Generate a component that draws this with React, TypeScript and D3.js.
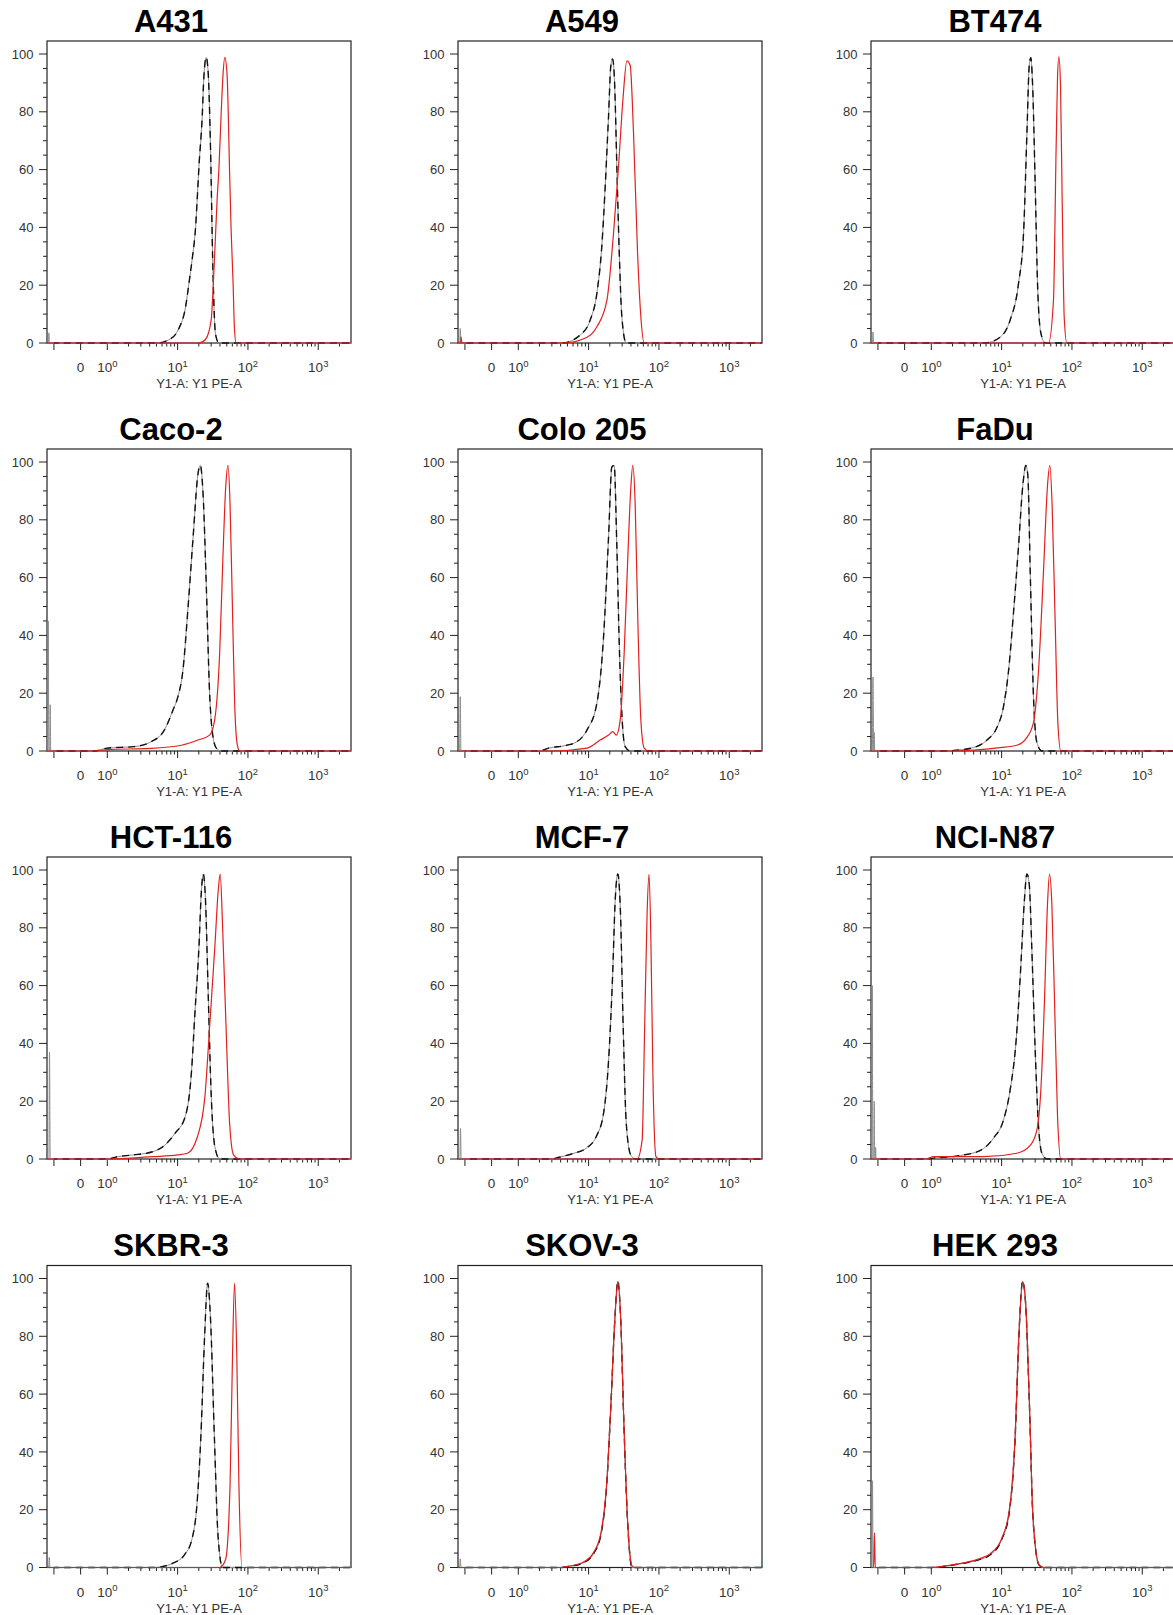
import React from 'react'
import * as d3 from 'd3'

// cell lines, in reading order (3 per row)
const cellLines = ['A431', 'A549', 'BT474', 'Caco-2', 'Colo 205', 'FaDu', 'HCT-116', 'MCF-7', 'NCI-N87', 'SKBR-3', 'SKOV-3', 'HEK 293']

// axis ticks
const yMajorTicks = [0, 20, 40, 60, 80, 100]
const yMinorTicks = d3.range(0, 101, 5)
const xMajorTicks = [-1, 0, 1, 10, 100, 1000]
const xTickBase = ['', '0', '10', '10', '10', '10']
const xTickSup = ['', '', '0', '1', '2', '3']
const xAxisTitle = 'Y1-A: Y1 PE-A'

// histograms: [intensity, % of max]; control = isotype (black), stained = antibody (red)
const a431Control = [[-1.21, 0], [-1.19, 3.5], [-1.17, 0], [5.1, 0], [7.5, 1.1], [10.4, 5], [13, 12.6], [14.5, 20.7], [16.1, 29], [18, 40], [19.2, 52], [20.1, 61], [22.4, 78.6], [23.6, 92], [25.5, 98.8], [27.2, 93.5], [29.4, 66.8], [31.7, 26], [34.6, 3], [38.6, 0]]
const a431Stained = [[20.1, 0], [25, 1.3], [30, 8], [32.1, 19.8], [36.5, 50], [38.6, 60], [41.7, 80], [44, 92], [47, 98.8], [50.7, 92], [52.4, 80], [54.7, 60], [57.5, 40], [61.6, 20], [64, 6], [68, 0]]

const a549Control = [[-1.2, 0], [-1.175, 5], [-1.15, 0], [4.2, 0], [7.6, 2.8], [10.5, 7.9], [13.1, 17.2], [15.5, 34.5], [17.2, 54], [19.2, 78.6], [20.7, 96], [21.9, 98.3], [23.4, 90], [25.2, 61], [27.2, 32], [29.7, 9], [34.2, 0]]
const a549Stained = [[-1.16, 0], [-1.14, 2], [-1.12, 0], [4.4, 0], [9.5, 2], [13.1, 5.6], [18.2, 14.8], [22.6, 38], [26.6, 61], [30.7, 84], [35, 97.6], [39, 96], [43.5, 72.6], [49.5, 32], [55.3, 9], [61.7, 0]]

const bt474Control = [[-1.21, 0], [-1.186, 3.8], [-1.16, 0], [5.8, 0], [9.5, 2], [13.2, 7.9], [17.4, 20.6], [20.5, 38], [22.9, 72.6], [24.7, 96], [26, 98.7], [27.5, 90], [30, 55], [32.4, 20.6], [36.1, 3.5], [41.6, 0]]
const bt474Stained = [[46.4, 0], [54.6, 14.8], [59.7, 69], [62.4, 92], [65.2, 99], [68.8, 89], [72.6, 49.5], [77.6, 9], [84.6, 0]]

const caco2Control = [[-1.23, 0], [-1.212, 45], [-1.19, 0], [-1.16, 0], [-1.138, 16], [-1.12, 0], [0.5, 0], [1, 1], [2.4, 1.5], [4.2, 3.2], [6.5, 7.3], [8.6, 14.2], [10.1, 18.8], [11.9, 28], [14.1, 50], [16.6, 74], [19.5, 96], [21, 98.8], [23, 89], [25.6, 56.8], [28.5, 20], [31.8, 5], [35.5, 1], [41.8, 0]]
const caco2Stained = [[0.5, 0], [1, 0.5], [4.2, 0.9], [11.3, 2], [19.5, 3.8], [28.5, 5.5], [33.6, 10.7], [39.6, 33.8], [44.2, 68], [48.2, 91], [52.1, 98.8], [55.6, 85.6], [60, 51], [64.7, 16.5], [70.7, 2], [76.3, 0]]

const colo205Control = [[-1.2, 0], [-1.175, 18.8], [-1.15, 0], [2, 0], [2.7, 1], [4.9, 2], [6.8, 3.2], [9.5, 7.3], [13.1, 16.5], [16.3, 39.5], [19.2, 74], [21.4, 98.3], [23.1, 98.8], [25.2, 70.6], [27.5, 33.8], [30, 10.7], [33.1, 1.5], [39, 0]]
const colo205Stained = [[3, 0], [9.5, 1], [14.6, 3.8], [19.2, 5.5], [22.1, 6.7], [24.7, 5.5], [28.1, 10.7], [32, 33.8], [36.2, 68], [39.8, 91], [42.5, 98.8], [45.9, 85.6], [50.1, 45], [55.3, 10.7], [61.6, 1], [71, 0]]

const faduControl = [[-1.21, 0], [-1.186, 25.6], [-1.16, 0], [-1.15, 0], [-1.138, 6.4], [-1.12, 0], [1.5, 0], [2.3, 0.3], [4, 1.2], [6.2, 3.8], [8.6, 8.2], [10.6, 15.2], [12.5, 27.4], [14.8, 48.3], [17.4, 70.9], [20, 91.8], [22.1, 98.8], [23.6, 95.3], [25.5, 62.2], [28.4, 18.6], [31.7, 3], [37.3, 0]]
const faduStained = [[2, 0], [9.5, 1.2], [16.5, 2], [22.9, 4.7], [28.4, 9.9], [33.4, 27.4], [39.4, 62.2], [44.9, 91.8], [48.5, 98.8], [52.3, 84.8], [57.7, 44.8], [63, 10], [69.5, 0]]

const hct116Control = [[-1.19, 0], [-1.167, 37], [-1.14, 0], [1, 0], [1.4, 0.8], [2.3, 1.4], [4.4, 2.5], [6.2, 4.3], [9.2, 8.9], [12.8, 14.6], [15.8, 30.7], [17.6, 50.3], [20.1, 73.3], [21.8, 92.9], [23.2, 98.6], [24.8, 90.6], [27.3, 56], [30.1, 21.5], [33.8, 4.3], [39.7, 0]]
const hct116Stained = [[1, 0], [4.4, 0.8], [10, 1.4], [13.8, 2], [19.1, 7.7], [24.4, 21.5], [28.7, 46.8], [33.8, 73.3], [37.8, 92.9], [40.3, 98.6], [43.8, 79], [49, 44.5], [54.9, 12.3], [62.5, 1.4], [75.9, 0]]

const mcf7Control = [[-1.19, 0], [-1.167, 10.6], [-1.14, 0], [3, 0], [3.8, 0.6], [6.2, 2], [9.2, 3.7], [12.8, 7.7], [16.3, 15.8], [19.1, 33], [21.8, 61.8], [24, 90.6], [26, 98.6], [28.2, 87], [31.1, 44.5], [34.3, 12.3], [39.7, 1.4], [46.7, 0]]
const mcf7Stained = [[49, 0], [57.7, 6.6], [62.5, 44.5], [67.8, 84.8], [72.3, 98.6], [77.1, 73.3], [82.3, 27.3], [90.7, 0.8], [100, 0]]

const nciN87Control = [[-1.23, 0], [-1.212, 60], [-1.19, 0], [-1.16, 0], [-1.138, 20], [-1.12, 0], [-1.1, 0], [-1.086, 4], [-1.07, 0], [0.8, 0], [1.08, 0.3], [2.6, 1.2], [5, 3], [7.7, 7.3], [10.6, 13.4], [13.2, 23.8], [16.1, 41.2], [18.8, 67.3], [20.9, 88.2], [22.9, 98.6], [24.7, 95.1], [26.9, 72.5], [30, 37.7], [33.4, 11.7], [37.3, 2], [44, 0]]
const nciN87Stained = [[0.8, 0], [1.08, 0.8], [5.5, 0.8], [16.5, 2], [25.5, 4.7], [31.7, 10], [36.1, 23.8], [40.7, 55], [44.9, 88.2], [48, 98.6], [51.8, 88.2], [56.5, 55], [62.3, 15.1], [69.5, 0]]

const skbr3Control = [[-1.2, 0], [-1.175, 3.5], [-1.15, 0], [5, 0], [6, 0.3], [8.6, 1.5], [12.5, 4.4], [15.9, 9.6], [18.9, 22.3], [21.4, 45.3], [24.2, 80], [26.7, 98.4], [29.4, 85.7], [33.3, 45.3], [37.6, 10.7], [43.5, 0]]
const skbr3Stained = [[39.4, 0], [48, 2.7], [55.6, 28], [59.8, 68.4], [64.4, 98.4], [69.3, 74.2], [74.5, 28], [82.2, 0]]

const skov3Control = [[-1.2, 0], [-1.175, 3], [-1.15, 0], [4, 0], [5, 0.3], [8.2, 1.5], [11.9, 5], [15.1, 11.9], [18, 28], [20.8, 56.9], [23.6, 85.7], [26, 99], [28.6, 85.7], [31.6, 51], [35.7, 16.5], [41.4, 0]]
const skov3Stained = [[4, 0], [5, 0.4], [8.2, 1.7], [11.9, 5.4], [15.1, 12.5], [18, 28.5], [20.8, 57], [23.6, 86], [26, 98.8], [28.6, 86], [31.6, 51.5], [35.7, 17], [41.4, 0.6], [45, 0]]

const hek293Control = [[-1.23, 0], [-1.205, 30], [-1.18, 0], [1, 0], [1.4, 0.3], [2.9, 1.5], [4.8, 2.7], [6.9, 4.4], [10, 9.6], [12.8, 18.8], [15.6, 45.3], [17.6, 80], [19.9, 99], [21.9, 91.5], [24.8, 56.9], [28, 16.5], [34, 0.9], [40, 0]]
const hek293Stained = [[-1.16, 0], [-1.13, 12], [-1.1, 0], [1, 0], [1.4, 0.4], [2.9, 1.6], [4.8, 3], [6.9, 4.8], [10, 10], [12.8, 19.5], [15.6, 46], [17.6, 80.5], [19.9, 98.8], [21.9, 92], [24.8, 57.5], [28, 17], [34, 1], [40, 0]]

const controlSeries = [a431Control, a549Control, bt474Control, caco2Control, colo205Control, faduControl, hct116Control, mcf7Control, nciN87Control, skbr3Control, skov3Control, hek293Control]
const stainedSeries = [a431Stained, a549Stained, bt474Stained, caco2Stained, colo205Stained, faduStained, hct116Stained, mcf7Stained, nciN87Stained, skbr3Stained, skov3Stained, hek293Stained]

// layout
const W = 1173
const H = 1615
const colLeft = [47, 458, 871]
const rowBase = [343, 751, 1159, 1567.5]
const boxW = 304
const boxH = 302
const yMax = 104.5
const xMin = -1.26
const xMax = 2920
const linEnd = 60.3
const font = "'Liberation Sans', Arial, Helvetica, sans-serif"

// biexponential-like axis: linear around zero, log from 10^0 upward
const xLin = d3.scaleLinear().domain([xMin, 1]).range([0, linEnd])
const xLog = d3.scaleLog().domain([1, xMax]).range([linEnd, boxW])
const xPos = (v: number) => (v < 1 ? xLin(v) : xLog(v))

const xMinorTicks = [1, 10, 100, 1000]
  .flatMap(d => d3.range(2, 10).map(k => k * d))
  .filter(v => v < xMax)

const yScale = d3.scaleLinear().domain([0, yMax]).range([boxH, 0])

const line = d3.line<number[]>()
  .x(d => xPos(d[0]))
  .y(d => yScale(d[1]))
  .curve(d3.curveMonotoneX)

const withBaseline = (pts: number[][]) => [[xMin, 0], ...pts, [xMax, 0]]

function Panel({ name, control, stained, left, base, idx }: any) {
  const top = base - boxH
  const ctrlPath = line(withBaseline(control)) || ''
  const stainPath = line(withBaseline(stained)) || ''
  // the pile-up spike at the left edge shows only as the thin grey trace
  const clipId = 'dash-clip-' + idx
  const clipX = xPos(-1)
  return (
    <g transform={`translate(${left},${top})`}>
      <defs>
        <clipPath id={clipId}>
          <rect x={clipX} y={-10} width={boxW - clipX + 10} height={boxH + 12} />
        </clipPath>
      </defs>
      <text x={124} y={-9.3} textAnchor='middle' fontSize={31} fontWeight='bold' fill='#000'>{name}</text>
      <rect x={0} y={0} width={boxW} height={boxH} fill='none' stroke='#222' strokeWidth={1.2} />

      {yMinorTicks.map(t => (
        <line key={'ym' + t} x1={yMajorTicks.includes(t) ? -8 : -4} x2={0} y1={yScale(t)} y2={yScale(t)} stroke='#222' />
      ))}
      {yMajorTicks.map(t => (
        <text key={'yl' + t} x={-13.5} y={yScale(t)} dy='0.36em' textAnchor='end' fontSize={13} fill='#333'>{t}</text>
      ))}

      {xMajorTicks.map(t => (
        <line key={'xM' + t} x1={xPos(t)} x2={xPos(t)} y1={boxH} y2={boxH + 7} stroke='#222' />
      ))}
      {xMinorTicks.map(t => (
        <line key={'xm' + t} x1={xPos(t)} x2={xPos(t)} y1={boxH} y2={boxH + 3.5} stroke='#222' />
      ))}
      {xMajorTicks.map((t, i) => (
        <text key={'xl' + t} x={xPos(t)} y={boxH + 29} textAnchor='middle' fontSize={13.5} fill='#333'>
          <tspan>{xTickBase[i]}</tspan>
          {xTickSup[i] && <tspan dy={-5.5} fontSize={9.5}>{xTickSup[i]}</tspan>}
        </text>
      ))}
      <text x={boxW / 2} y={boxH + 45} textAnchor='middle' fontSize={13} fill='#333'>{xAxisTitle}</text>

      <path d={ctrlPath} fill='none' stroke='#8c8c8c' strokeWidth={1} />
      <path d={ctrlPath} fill='none' stroke='#111' strokeWidth={1.4} strokeDasharray='7 5' clipPath={`url(#${clipId})`} />
      <path d={stainPath} fill='none' stroke='#e3201c' strokeWidth={1.2} />
    </g>
  )
}

export default function App () {
  return (
    <svg width={W} height={H} fontFamily={font}
      style={{ position: 'absolute', left: 0, top: 0, background: '#fff' }}>
      {cellLines.map((name, i) => (
        <Panel key={name} idx={i} name={name}
          control={controlSeries[i]} stained={stainedSeries[i]}
          left={colLeft[i % 3]} base={rowBase[Math.floor(i / 3)]} />
      ))}
    </svg>
  )
}
